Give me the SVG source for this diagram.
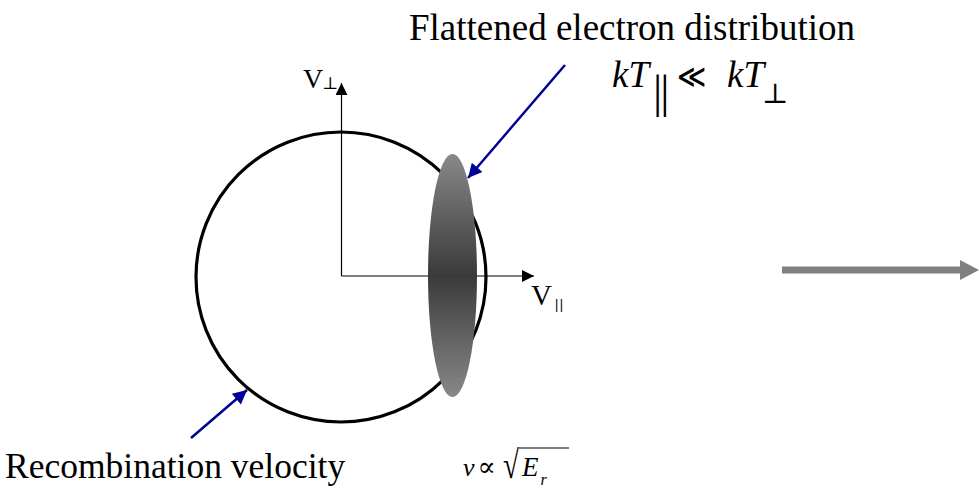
<svg xmlns="http://www.w3.org/2000/svg" width="979" height="488" viewBox="0 0 979 488">
<style>
  text { font-family: 'Liberation Serif', 'Times New Roman', Times, 'DejaVu Serif', serif; fill: #000; }
  .it { font-style: italic; }
  .up { font-style: normal; }
  .axis { stroke: #000; stroke-width: 1.2; fill: none; }
  .blue { stroke: #000099; stroke-width: 2.5; fill: none; }
</style>
<defs>
  <marker id="axisHead" viewBox="0 0 10 10" refX="10" refY="5" markerUnits="userSpaceOnUse" markerWidth="18" markerHeight="12" orient="auto">
    <path d="M0,0 L10,5 L0,10 z" fill="#000"/>
  </marker>
  <marker id="blueHead" viewBox="0 0 10 10" refX="10" refY="5" markerUnits="userSpaceOnUse" markerWidth="17" markerHeight="14" orient="auto">
    <path d="M0,0 L10,5 L0,10 z" fill="#000099"/>
  </marker>
  <linearGradient id="flatGrad" x1="0" y1="0" x2="0" y2="1">
    <stop offset="0" stop-color="#888888"/>
    <stop offset="0.5" stop-color="#3a3a3a"/>
    <stop offset="1" stop-color="#888888"/>
  </linearGradient>
</defs>

<g id="velocity-sphere">
  <circle cx="341" cy="277" r="145" fill="none" stroke="#000" stroke-width="3.2"/>
</g>

<g id="axes">
  <line class="axis" x1="341.5" y1="276" x2="341.5" y2="83" marker-end="url(#axisHead)"/>
  <line class="axis" x1="341.5" y1="276" x2="534" y2="276" marker-end="url(#axisHead)"/>
</g>

<g id="flattened-distribution">
  <ellipse cx="452.5" cy="275.5" rx="24.5" ry="121.5" fill="url(#flatGrad)"/>
</g>

<g id="connectors">
  <line class="blue" x1="565" y1="65" x2="468" y2="178" marker-end="url(#blueHead)"/>
  <line class="blue" x1="191" y1="438" x2="247" y2="390" marker-end="url(#blueHead)"/>
  <g id="gray-arrow">
    <rect x="782" y="266.5" width="180" height="7" fill="#808080"/>
    <path d="M960,260 L979,270 L960,280 z" fill="#808080"/>
  </g>
</g>

<g id="label-vperp">
  <text x="303" y="88" font-size="28">V<tspan font-size="17" dx="-1" dy="1">⊥</tspan></text>
</g>
<g id="label-vpar">
  <text x="531" y="305" font-size="29">V<tspan font-size="15" font-weight="bold" dx="3" dy="4" letter-spacing="1.5">||</tspan></text>
</g>

<g id="label-flattened">
  <text x="409" y="40" font-size="37">Flattened electron distribution</text>
</g>

<g id="label-kt">
  <text class="it" x="612" y="87" font-size="37">kT<tspan class="up" font-size="46" dx="4" dy="20" letter-spacing="-2">||</tspan></text>
  <text x="677" y="86" font-size="28" font-weight="bold" style="font-family:'DejaVu Sans',sans-serif">≪</text>
  <text class="it" x="727" y="87" font-size="37">kT<tspan class="up" font-size="28" dx="-2" dy="16">⊥</tspan></text>
</g>

<g id="label-recombination">
  <text x="5" y="478" font-size="35.5">Recombination velocity</text>
</g>

<g id="label-formula">
  <text x="463" y="476" font-size="26"><tspan class="it">v</tspan><tspan dx="3" font-size="27">∝</tspan></text>
  <text transform="translate(503,478) scale(0.85,1.15)" font-size="34">√</text>
  <line x1="519" y1="448" x2="569" y2="448" stroke="#000" stroke-width="1.2"/>
  <text x="522" y="476" font-size="27"><tspan class="it">E</tspan><tspan class="it" dx="2" dy="9" font-size="16">r</tspan></text>
</g>
</svg>
